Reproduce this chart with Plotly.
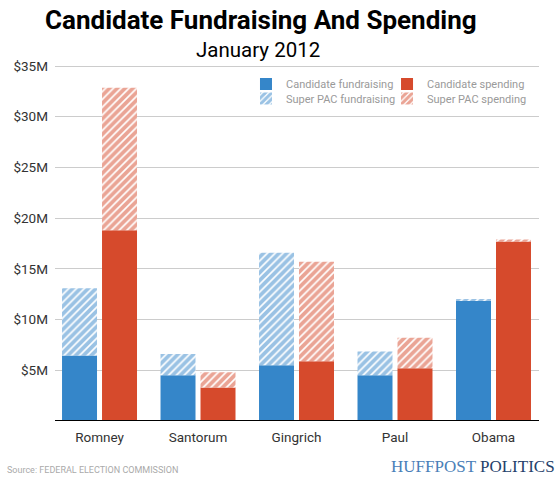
import plotly.graph_objects as go

# January 2012 totals, in millions of dollars
candidates = ["Romney", "Santorum", "Gingrich", "Paul", "Obama"]
cand_raised = [6.45, 4.5, 5.5, 4.5, 11.9]
pac_raised = [6.65, 2.1, 11.1, 2.35, 0.1]
cand_spent = [18.8, 3.3, 5.9, 5.2, 17.7]
pac_spent = [14.05, 1.5, 9.8, 3.0, 0.2]

tick_vals = [5, 10, 15, 20, 25, 30, 35]
tick_text = ["$5M", "$10M", "$15M", "$20M", "$25M", "$30M", "$35M"]

blue = "#3586c9"
red = "#d64a2c"
font = "Roboto, Liberation Sans, sans-serif"

fig = go.Figure()
fig.add_trace(go.Bar(x=candidates, y=cand_raised, name="Candidate fundraising",
                     offsetgroup="raised", marker=dict(color=blue, line_width=0),
                     legend="legend"))
fig.add_trace(go.Bar(x=candidates, y=pac_raised, base=cand_raised, name="Super PAC fundraising",
                     offsetgroup="raised",
                     marker=dict(color="white", line_width=0,
                                 pattern=dict(shape="/", fgcolor=blue, bgcolor="white",
                                              size=5.5, solidity=0.7)),
                     legend="legend2"))
fig.add_trace(go.Bar(x=candidates, y=cand_spent, name="Candidate spending",
                     offsetgroup="spent", marker=dict(color=red, line_width=0),
                     legend="legend3"))
fig.add_trace(go.Bar(x=candidates, y=pac_spent, base=cand_spent, name="Super PAC spending",
                     offsetgroup="spent",
                     marker=dict(color="white", line_width=0,
                                 pattern=dict(shape="/", fgcolor=red, bgcolor="white",
                                              size=5.5, solidity=0.7)),
                     legend="legend4"))

legend_style = dict(font=dict(family=font, size=11, color="#9a9a9a"),
                    bgcolor="rgba(0,0,0,0)", borderwidth=0, itemwidth=30,
                    xanchor="left", yanchor="middle")
fig.update_layout(
  width=560, height=480,
  margin=dict(l=55, r=21, t=65, b=59),
  paper_bgcolor="white", plot_bgcolor="white",
  barmode="group", bargap=0.188, bargroupgap=0.125,
  showlegend=True,
  legend=dict(x=0.3946, y=0.9466, **legend_style),
  legend2=dict(x=0.3946, y=0.906, **legend_style),
  legend3=dict(x=0.686, y=0.9466, **legend_style),
  legend4=dict(x=0.686, y=0.906, **legend_style),
)
fig.update_xaxes(range=[-0.452, 4.462], showgrid=False, showline=False, ticks="",
                 ticklabelstandoff=6,
                 tickfont=dict(family=font, size=13.5, color="#333333"))
fig.update_yaxes(range=[0, 35.1], tickvals=tick_vals, ticktext=tick_text,
                 showgrid=True, gridcolor="#cccccc", gridwidth=1.2, zeroline=False,
                 showline=False, ticks="", ticklabelstandoff=6,
                 tickfont=dict(family=font, size=13.5, color="#333333"))

# baseline
fig.add_shape(type="line", xref="paper", yref="y", x0=0, x1=1, y0=0, y1=0,
              line=dict(color="black", width=2))

fig.add_annotation(text="<b>Candidate Fundraising And Spending</b>", xref="paper", yref="paper",
                   x=0.425, y=1.126, showarrow=False, xanchor="center", yanchor="middle",
                   font=dict(family=font, size=26, color="black"))
fig.add_annotation(text="January 2012", xref="paper", yref="paper",
                   x=0.42, y=1.043, showarrow=False, xanchor="center", yanchor="middle",
                   font=dict(family=font, size=20.5, color="black"))
fig.add_annotation(text="Source: FEDERAL ELECTION COMMISSION", xref="paper", yref="paper",
                   x=-0.1033, y=-0.1376, showarrow=False, xanchor="left", yanchor="middle",
                   font=dict(family=font, size=9, color="#aaaaaa"))
fig.add_annotation(text="<span style='color:#4a80b8'>HUFFPOST</span> <span style='color:#24416b'>POLITICS</span>",
                   xref="paper", yref="paper", x=1.037, y=-0.129, showarrow=False,
                   xanchor="right", yanchor="middle",
                   font=dict(family="Liberation Serif, serif", size=17))

# drop the default body margin so the figure fills the window exactly
fig.write_html("out.html", config={"displayModeBar": False},
               post_script="document.body.style.margin = '0';")
